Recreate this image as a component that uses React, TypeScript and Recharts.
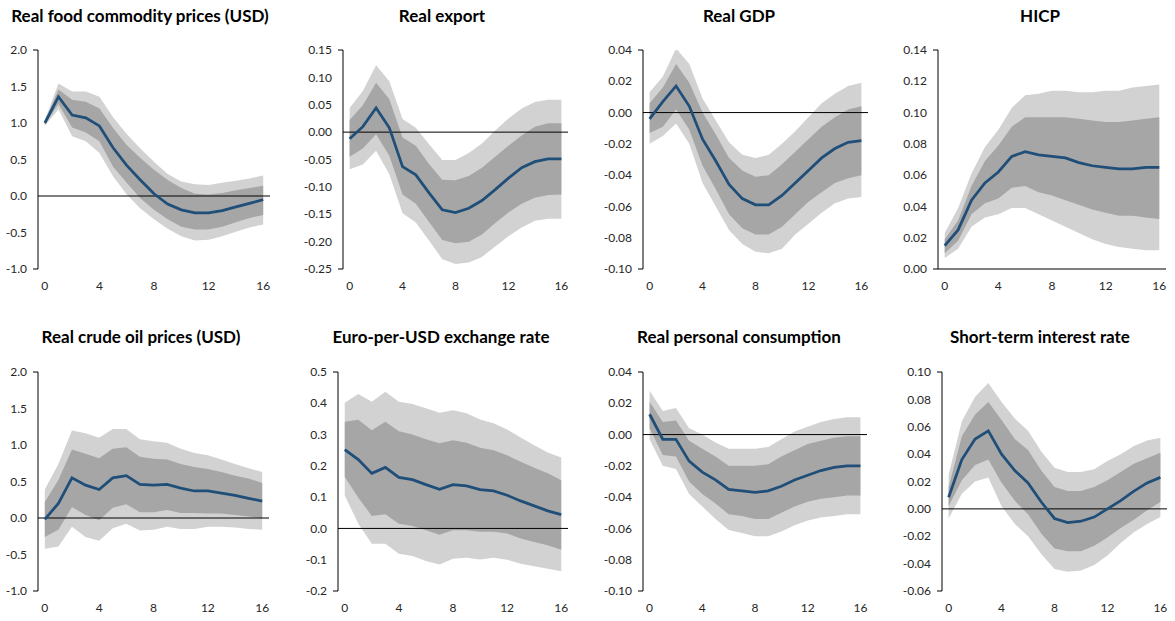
import { ComposedChart, Area, Line, XAxis, YAxis, ReferenceLine } from "recharts";

const horizons = [0, 1, 2, 3, 4, 5, 6, 7, 8, 9, 10, 11, 12, 13, 14, 15, 16];
const xTicks = [0, 4, 8, 12, 16];

// Real food commodity prices (USD)
const foodMed = [1.0, 1.36, 1.11, 1.07, 0.96, 0.66, 0.42, 0.22, 0.03, -0.11, -0.19, -0.23, -0.23, -0.2, -0.15, -0.1, -0.05];
const foodInHi = [1.02, 1.46, 1.32, 1.29, 1.2, 0.93, 0.7, 0.52, 0.36, 0.22, 0.11, 0.03, 0.02, 0.04, 0.08, 0.11, 0.14];
const foodInLo = [0.98, 1.26, 0.94, 0.87, 0.75, 0.4, 0.18, -0.03, -0.19, -0.32, -0.42, -0.46, -0.46, -0.42, -0.36, -0.3, -0.26];
const foodOutHi = [1.04, 1.54, 1.43, 1.43, 1.36, 1.08, 0.85, 0.65, 0.47, 0.3, 0.2, 0.16, 0.15, 0.18, 0.21, 0.24, 0.28];
const foodOutLo = [0.96, 1.19, 0.82, 0.75, 0.59, 0.27, 0.02, -0.17, -0.32, -0.45, -0.55, -0.61, -0.6, -0.55, -0.49, -0.43, -0.39];
const foodTicks = [-1.0, -0.5, 0.0, 0.5, 1.0, 1.5, 2.0];

// Real export
const expMed = [-0.012, 0.01, 0.044, 0.008, -0.063, -0.078, -0.111, -0.142, -0.147, -0.139, -0.125, -0.105, -0.084, -0.065, -0.054, -0.049, -0.049];
const expInHi = [0.022, 0.049, 0.09, 0.06, -0.01, -0.025, -0.058, -0.087, -0.088, -0.08, -0.065, -0.045, -0.025, -0.006, 0.01, 0.016, 0.016];
const expInLo = [-0.045, -0.03, -0.004, -0.043, -0.114, -0.131, -0.164, -0.197, -0.203, -0.2, -0.187, -0.166, -0.147, -0.131, -0.12, -0.115, -0.114];
const expOutHi = [0.044, 0.075, 0.122, 0.093, 0.024, 0.008, -0.022, -0.051, -0.051, -0.038, -0.021, 0.003, 0.025, 0.043, 0.055, 0.059, 0.059];
const expOutLo = [-0.068, -0.059, -0.034, -0.077, -0.148, -0.165, -0.198, -0.232, -0.241, -0.238, -0.228, -0.209, -0.19, -0.174, -0.162, -0.158, -0.158];
const expTicks = [-0.25, -0.2, -0.15, -0.1, -0.05, 0.0, 0.05, 0.1, 0.15];

// Real GDP
const gdpMed = [-0.004, 0.007, 0.017, 0.004, -0.017, -0.031, -0.046, -0.055, -0.059, -0.059, -0.053, -0.045, -0.037, -0.029, -0.023, -0.019, -0.018];
const gdpInHi = [0.006, 0.016, 0.031, 0.019, 0.0, -0.014, -0.029, -0.037, -0.041, -0.04, -0.033, -0.025, -0.017, -0.009, -0.003, 0.002, 0.004];
const gdpInLo = [-0.013, -0.009, 0.002, -0.011, -0.034, -0.049, -0.065, -0.074, -0.078, -0.078, -0.073, -0.065, -0.057, -0.051, -0.045, -0.042, -0.04];
const gdpOutHi = [0.013, 0.023, 0.041, 0.031, 0.009, -0.005, -0.019, -0.027, -0.029, -0.027, -0.02, -0.012, -0.003, 0.006, 0.012, 0.017, 0.019];
const gdpOutLo = [-0.02, -0.015, -0.007, -0.02, -0.045, -0.06, -0.075, -0.084, -0.089, -0.09, -0.087, -0.078, -0.071, -0.064, -0.058, -0.055, -0.054];
const gdpTicks = [-0.1, -0.08, -0.06, -0.04, -0.02, 0.0, 0.02, 0.04];

// HICP
const hicpMed = [0.015, 0.025, 0.044, 0.055, 0.062, 0.072, 0.075, 0.073, 0.072, 0.071, 0.068, 0.066, 0.065, 0.064, 0.064, 0.065, 0.065];
const hicpInHi = [0.019, 0.031, 0.053, 0.069, 0.079, 0.091, 0.097, 0.097, 0.097, 0.097, 0.096, 0.095, 0.094, 0.094, 0.095, 0.096, 0.097];
const hicpInLo = [0.01, 0.018, 0.035, 0.042, 0.045, 0.052, 0.053, 0.049, 0.047, 0.044, 0.041, 0.038, 0.036, 0.034, 0.034, 0.033, 0.032];
const hicpOutHi = [0.023, 0.039, 0.061, 0.078, 0.089, 0.103, 0.111, 0.112, 0.114, 0.114, 0.113, 0.113, 0.114, 0.114, 0.116, 0.117, 0.118];
const hicpOutLo = [0.007, 0.013, 0.027, 0.033, 0.035, 0.039, 0.039, 0.035, 0.031, 0.027, 0.023, 0.019, 0.016, 0.014, 0.013, 0.012, 0.012];
const hicpTicks = [0.0, 0.02, 0.04, 0.06, 0.08, 0.1, 0.12, 0.14];

// Real crude oil prices (USD)
const oilMed = [-0.02, 0.2, 0.55, 0.45, 0.39, 0.55, 0.58, 0.46, 0.45, 0.46, 0.41, 0.37, 0.37, 0.34, 0.31, 0.27, 0.23];
const oilInHi = [0.22, 0.52, 0.94, 0.88, 0.82, 0.95, 0.97, 0.84, 0.81, 0.8, 0.74, 0.7, 0.67, 0.63, 0.58, 0.54, 0.48];
const oilInLo = [-0.26, -0.16, 0.15, 0.04, -0.03, 0.14, 0.19, 0.08, 0.08, 0.11, 0.07, 0.07, 0.06, 0.06, 0.04, 0.02, 0.0];
const oilOutHi = [0.39, 0.74, 1.2, 1.16, 1.1, 1.22, 1.22, 1.08, 1.05, 1.03, 0.95, 0.89, 0.86, 0.8, 0.74, 0.68, 0.63];
const oilOutLo = [-0.42, -0.39, -0.12, -0.26, -0.31, -0.14, -0.08, -0.17, -0.16, -0.12, -0.15, -0.15, -0.12, -0.12, -0.13, -0.15, -0.16];
const oilTicks = [-1.0, -0.5, 0.0, 0.5, 1.0, 1.5, 2.0];

// Euro-per-USD exchange rate
const fxMed = [0.252, 0.22, 0.176, 0.195, 0.163, 0.156, 0.14, 0.125, 0.14, 0.136, 0.124, 0.12, 0.106, 0.088, 0.072, 0.056, 0.044];
const fxInHi = [0.341, 0.347, 0.314, 0.341, 0.311, 0.3, 0.285, 0.272, 0.282, 0.274, 0.258, 0.25, 0.234, 0.213, 0.194, 0.176, 0.154];
const fxInLo = [0.165, 0.098, 0.04, 0.045, 0.015, 0.008, -0.006, -0.02, -0.006, -0.006, -0.011, -0.011, -0.016, -0.032, -0.043, -0.054, -0.068];
const fxOutHi = [0.402, 0.43, 0.405, 0.437, 0.405, 0.398, 0.384, 0.37, 0.378, 0.368, 0.348, 0.336, 0.316, 0.291, 0.266, 0.243, 0.227];
const fxOutLo = [0.105, 0.015, -0.049, -0.049, -0.081, -0.088, -0.104, -0.115, -0.097, -0.094, -0.099, -0.094, -0.1, -0.113, -0.121, -0.129, -0.137];
const fxTicks = [-0.2, -0.1, 0.0, 0.1, 0.2, 0.3, 0.4, 0.5];

// Real personal consumption
const conMed = [0.013, -0.003, -0.003, -0.017, -0.024, -0.029, -0.035, -0.036, -0.037, -0.036, -0.033, -0.029, -0.026, -0.023, -0.021, -0.02, -0.02];
const conInHi = [0.021, 0.008, 0.009, -0.004, -0.009, -0.014, -0.02, -0.02, -0.02, -0.019, -0.014, -0.01, -0.006, -0.004, -0.002, -0.001, -0.001];
const conInLo = [0.004, -0.013, -0.014, -0.03, -0.038, -0.044, -0.051, -0.052, -0.054, -0.054, -0.05, -0.046, -0.043, -0.041, -0.04, -0.039, -0.039];
const conOutHi = [0.028, 0.015, 0.017, 0.004, 0.0, -0.005, -0.009, -0.009, -0.009, -0.008, -0.003, 0.002, 0.005, 0.008, 0.01, 0.011, 0.011];
const conOutLo = [-0.003, -0.02, -0.022, -0.038, -0.046, -0.054, -0.061, -0.063, -0.065, -0.065, -0.062, -0.058, -0.055, -0.053, -0.052, -0.051, -0.051];
const conTicks = [-0.1, -0.08, -0.06, -0.04, -0.02, 0.0, 0.02, 0.04];

// Short-term interest rate
const rateMed = [0.0085, 0.036, 0.051, 0.057, 0.04, 0.028, 0.019, 0.005, -0.007, -0.01, -0.009, -0.006, 0.0, 0.006, 0.013, 0.019, 0.023];
const rateInHi = [0.016, 0.053, 0.069, 0.078, 0.065, 0.051, 0.043, 0.028, 0.016, 0.013, 0.013, 0.016, 0.021, 0.027, 0.033, 0.037, 0.041];
const rateInLo = [0.002, 0.021, 0.032, 0.036, 0.019, 0.006, -0.004, -0.018, -0.029, -0.031, -0.031, -0.027, -0.021, -0.014, -0.008, -0.001, 0.005];
const rateOutHi = [0.025, 0.064, 0.082, 0.092, 0.078, 0.066, 0.057, 0.042, 0.03, 0.027, 0.027, 0.029, 0.035, 0.04, 0.046, 0.05, 0.052];
const rateOutLo = [-0.007, 0.011, 0.02, 0.023, 0.002, -0.011, -0.02, -0.033, -0.044, -0.046, -0.045, -0.041, -0.034, -0.025, -0.017, -0.011, -0.006];
const rateTicks = [-0.06, -0.04, -0.02, 0.0, 0.02, 0.04, 0.06, 0.08, 0.1];

const FONT = "Lato, 'Open Sans', sans-serif";
const OUTER = "#d2d2d3";
const INNER = "#a6a6a6";
const BLUE = "#1f4e79";

const Y_W = 50;
const PLOT_H = 219;
const TOP_PAD = 10;

const panels = [
  { title: "Real food commodity prices (USD)", med: foodMed, inLo: foodInLo, inHi: foodInHi, outLo: foodOutLo, outHi: foodOutHi, ticks: foodTicks, dec: 1, axisX: 38, right: 270, top: 50, titleX: 140, titleY: 16 },
  { title: "Real export", med: expMed, inLo: expInLo, inHi: expInHi, outLo: expOutLo, outHi: expOutHi, ticks: expTicks, dec: 2, axisX: 343, right: 568, top: 50, titleX: 442, titleY: 16 },
  { title: "Real GDP", med: gdpMed, inLo: gdpInLo, inHi: gdpInHi, outLo: gdpOutLo, outHi: gdpOutHi, ticks: gdpTicks, dec: 2, axisX: 643, right: 868, top: 50, titleX: 739, titleY: 16 },
  { title: "HICP", med: hicpMed, inLo: hicpInLo, inHi: hicpInHi, outLo: hicpOutLo, outHi: hicpOutHi, ticks: hicpTicks, dec: 2, axisX: 938, right: 1166, top: 50, titleX: 1040, titleY: 16 },
  { title: "Real crude oil prices (USD)", med: oilMed, inLo: oilInLo, inHi: oilInHi, outLo: oilOutLo, outHi: oilOutHi, ticks: oilTicks, dec: 1, axisX: 38, right: 269, top: 372, titleX: 141, titleY: 337 },
  { title: "Euro-per-USD exchange rate", med: fxMed, inLo: fxInLo, inHi: fxInHi, outLo: fxOutLo, outHi: fxOutHi, ticks: fxTicks, dec: 1, axisX: 338, right: 568, top: 372, titleX: 441, titleY: 337 },
  { title: "Real personal consumption", med: conMed, inLo: conInLo, inHi: conInHi, outLo: conOutLo, outHi: conOutHi, ticks: conTicks, dec: 2, axisX: 643, right: 867, top: 372, titleX: 739, titleY: 337 },
  { title: "Short-term interest rate", med: rateMed, inLo: rateInLo, inHi: rateInHi, outLo: rateOutLo, outHi: rateOutHi, ticks: rateTicks, dec: 2, axisX: 942, right: 1167, top: 372, titleX: 1040, titleY: 337 },
];

function YTick(props: any) {
  const { x, y, payload, index, visibleTicksCount, dec } = props;
  const axis = x + 11;
  const edge = index === 0 || index === visibleTicksCount - 1;
  return (
    <g>
      {edge && <line x1={axis - 5} x2={axis} y1={y} y2={y} stroke="#000" strokeWidth={1} />}
      <text x={x} y={y} dy="0.35em" textAnchor="end" fontSize={12} fontFamily={FONT} fill="#262626">
        {Number(payload.value).toFixed(dec)}
      </text>
    </g>
  );
}

function Panel({ p }: { p: any }) {
  const data = horizons.map((t, i) => ({
    t,
    outer: [p.outLo[i], p.outHi[i]],
    inner: [p.inLo[i], p.inHi[i]],
    med: p.med[i],
  }));
  const plotW = p.right - p.axisX;
  const width = Y_W + plotW + 4;
  const height = TOP_PAD + PLOT_H + 30;
  const lo = p.ticks[0];
  const hi = p.ticks[p.ticks.length - 1];
  return (
    <>
      <div
        style={{
          position: "absolute",
          left: p.titleX - 200,
          width: 400,
          top: p.titleY - 11,
          textAlign: "center",
          fontFamily: FONT,
          fontWeight: 700,
          fontSize: 17,
          lineHeight: "22px",
          color: "#000",
        }}
      >
        {p.title}
      </div>
      <div style={{ position: "absolute", left: p.axisX - Y_W, top: p.top - TOP_PAD }}>
        <ComposedChart width={width} height={height} data={data} margin={{ top: TOP_PAD, right: 4, left: 0, bottom: 0 }}>
          <XAxis
            dataKey="t"
            type="number"
            domain={[-0.5, 16.5]}
            ticks={xTicks}
            axisLine={false}
            tickLine={false}
            tickSize={6}
            tickMargin={6}
            height={30}
            tick={{ fontSize: 12, fontFamily: FONT, fill: "#262626" }}
          />
          <YAxis
            type="number"
            domain={[lo, hi]}
            ticks={p.ticks}
            width={Y_W}
            allowDataOverflow
            axisLine={{ stroke: "#000", strokeWidth: 1 }}
            tickLine={false}
            tickSize={5}
            tickMargin={6}
            interval={0}
            tick={<YTick dec={p.dec} />}
          />
          <Area dataKey="outer" type="linear" stroke="none" fill={OUTER} fillOpacity={1} isAnimationActive={false} />
          <Area dataKey="inner" type="linear" stroke="none" fill={INNER} fillOpacity={1} isAnimationActive={false} />
          <ReferenceLine y={0} stroke="#000" strokeWidth={1} />
          <Line dataKey="med" type="linear" stroke={BLUE} strokeWidth={2.75} dot={false} isAnimationActive={false} />
        </ComposedChart>
      </div>
    </>
  );
}

export default function App() {
  return (
    <div style={{ position: "absolute", left: 0, top: 0, width: 1175, height: 621, background: "#fff" }}>
      {panels.map((p) => (
        <Panel key={p.title} p={p} />
      ))}
    </div>
  );
}
